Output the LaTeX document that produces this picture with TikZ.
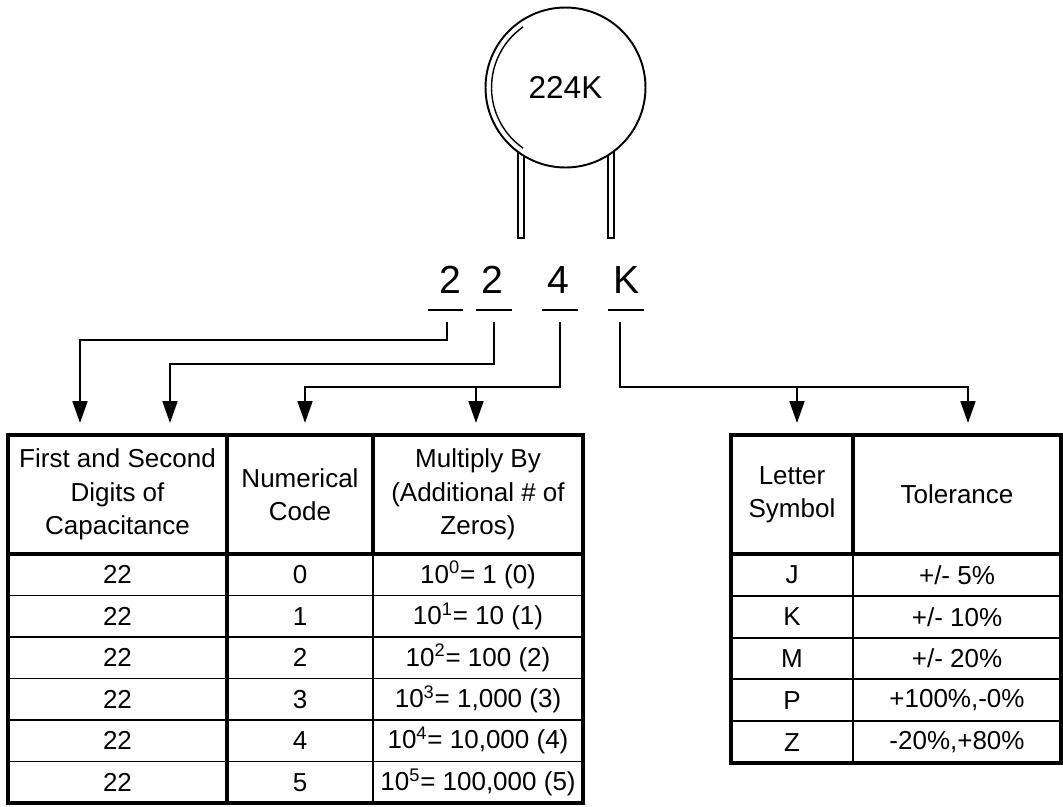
\documentclass[tikz,border=0pt]{standalone}
\usepackage{fontspec}
\setmainfont{Liberation Sans}
\usetikzlibrary{arrows.meta}
\tikzset{
  cap body/.style={circle, draw, line width=1.1pt, fill=white, minimum size=3.2cm, inner sep=0pt, font=\fontsize{18}{22}\selectfont},
  lead line/.style={line width=0.8pt, black, fill=white},
  glint line/.style={line width=0.8pt, black},
  code digit/.style={inner sep=0pt, font=\fontsize{22.3}{26}\selectfont},
  code mark/.style={line width=1.2pt},
  pointer line/.style={line width=1.1pt, -{Triangle[length=12.5pt, width=8.5pt]}},
  frame rule/.style={line width=2.3pt, line cap=rect},
  row rule/.style={line width=1.1pt},
  cell text/.style={align=center, inner sep=0pt, font=\fontsize{14.8}{19}\selectfont},
}

\begin{document}
\begin{tikzpicture}[x=0.02cm, y=-0.02cm]
  \useasboundingbox (0,0) rectangle (1063,806);
  % capacitor
  \draw[lead line] (518,140) rectangle (524,238);
  \draw[lead line] (608,140) rectangle (614,238);
  \node[cap body] (cap) at (565.5,87.5) {224K};
  \draw[glint line] ([shift={(125:1.48cm)}]cap.center) arc[start angle=125, end angle=235, radius=1.48cm];
  % code letters
  \foreach \ch/\x [count=\i] in {2/450, 2/492, 4/558, K/627}
    \node[code digit] (ch\i) at (\x,280) {\ch};
  \foreach \a/\b [count=\i] in {428/463, 476/512, 542/578, 608/644}
    \draw[code mark] (\a,310) -- (\b,310);
  \coordinate (s1) at (447,322);
  \coordinate (s2) at (494,322);
  \coordinate (s3) at (560,322);
  \coordinate (s4) at (620,322);
  \coordinate (j3) at (476,387);
  \coordinate (j4) at (797,387);
  \coordinate (e1) at (80,423);
  \coordinate (e2) at (170,423);
  \coordinate (e3) at (305,423);
  \coordinate (e4) at (476,423);
  \coordinate (e5) at (797,423);
  \coordinate (e6) at (968,423);
  \draw[pointer line] (s1) -- ++(0,18) -| (e1);
  \draw[pointer line] (s2) -- ++(0,42) -| (e2);
  \draw[pointer line] (s3) -- ++(0,65) -| (e3);
  \draw[pointer line] (j3) -- (e4);
  \draw[pointer line] (s4) -- ++(0,65) -| (e6);
  \draw[pointer line] (j4) -- (e5);
  % value table
  \foreach \r in {1,...,5}
    \draw[row rule] (8,{554+41.5*\r}) -- (583,{554+41.5*\r});
  \draw[row rule] (373,554) -- (373,803);
  \draw[frame rule] (227,435) -- (227,803);
  \draw[frame rule] (373,435) -- (373,554);
  \draw[frame rule] (8,554) -- (583,554);
  \draw[frame rule] (8,435) rectangle (583,803);
  \node[cell text] (hdig) at (117.5,494.5) {First and Second\\Digits of\\Capacitance};
  \node[cell text] (hcode) at (300,494.5) {Numerical\\Code};
  \node[cell text] (hmult) at (478,494.5) {Multiply By\\(Additional \# of\\Zeros)};
  \foreach \pw/\val in {0/1, 1/10, 2/100, 3/{1,000}, 4/{10,000}, 5/{100,000}} {
    \node[cell text] (dig\pw) at (117.5,{554+41.5*(\pw+0.5)}) {22};
    \node[cell text] (code\pw) at (300,{554+41.5*(\pw+0.5)}) {\pw};
    \node[cell text] (mult\pw) at (478,{554+41.5*(\pw+0.5)}) {10\textsuperscript{\pw}= \val{} (\pw)};
  }
  % tolerance table
  \foreach \r in {1,...,4}
    \draw[row rule] (731,{554+41.8*\r}) -- (1061,{554+41.8*\r});
  \draw[row rule] (853,554) -- (853,763);
  \draw[frame rule] (853,435) -- (853,554);
  \draw[frame rule] (731,554) -- (1061,554);
  \draw[frame rule] (731,435) rectangle (1061,763);
  \node[cell text] (hlet) at (792,494.5) {Letter\\Symbol};
  \node[cell text] (htol) at (957,494.5) {Tolerance};
  \foreach \lt/\tol [count=\i from 0] in {J/{+/- 5\%}, K/{+/- 10\%}, M/{+/- 20\%}, P/{+100\%,-0\%}, Z/{-20\%,+80\%}} {
    \node[cell text] (let\i) at (792,{554+41.8*(\i+0.5)}) {\lt};
    \node[cell text] (tol\i) at (957,{554+41.8*(\i+0.5)}) {\tol};
  }
\end{tikzpicture}
\end{document}
